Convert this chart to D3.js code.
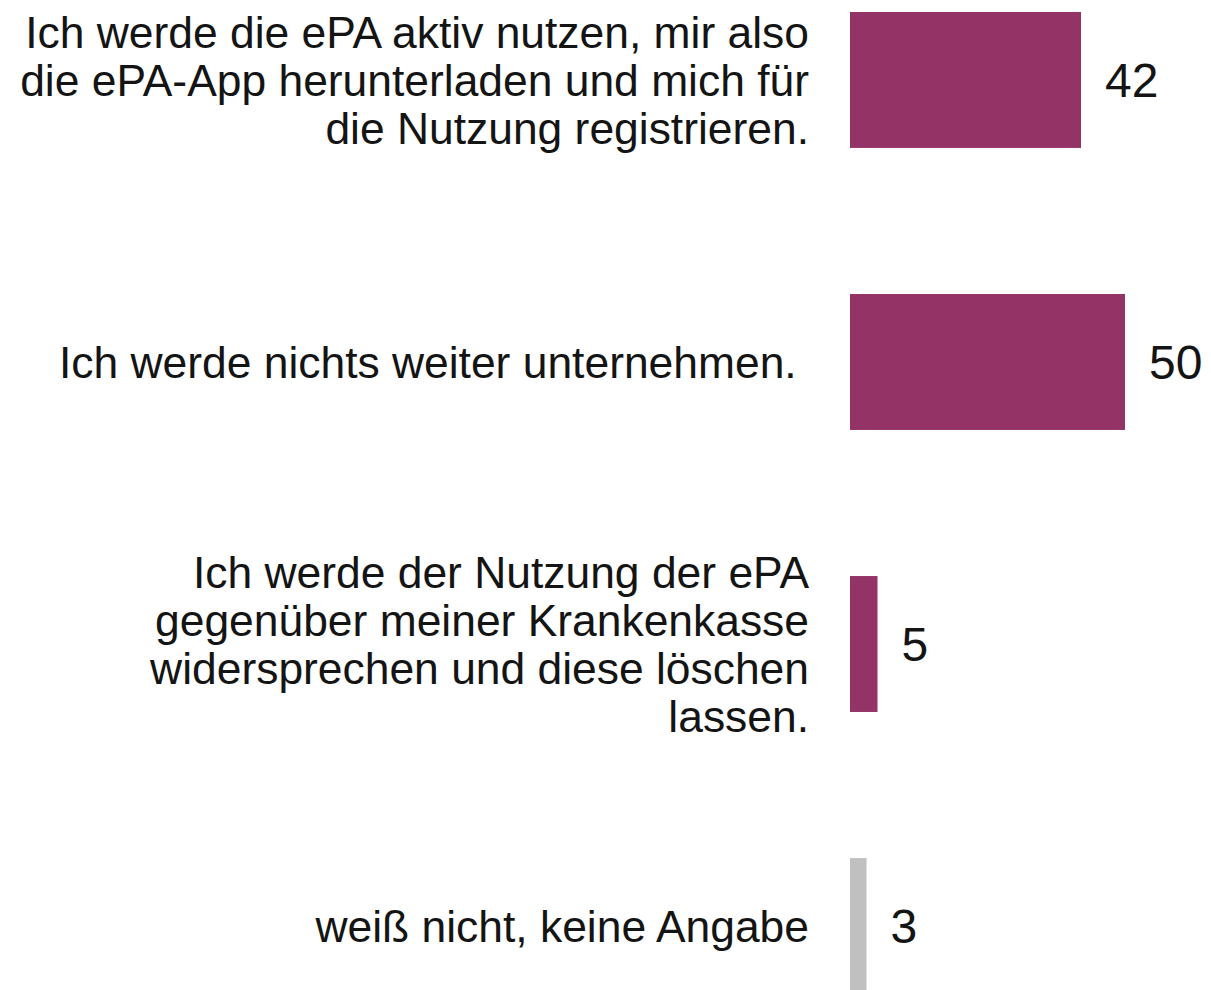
<!DOCTYPE html>
<html lang="de">
<head>
    <meta charset="UTF-8">
    <style>
        body { margin: 0; background: #fff; }
        svg text { font-family: "Liberation Sans", Arial, sans-serif; fill: #141414; white-space: pre; }
    </style>
</head>
<body>
<script src="https://d3js.org/d3.v7.min.js"></script>
<script>
// Antworten (Zeilen umbrochen wie im Original)
var categories = [
    ["Ich werde die ePA aktiv nutzen, mir also", "die ePA-App herunterladen und mich für", "die Nutzung registrieren."],
    ["Ich werde nichts weiter unternehmen. "],
    ["Ich werde der Nutzung der ePA", "gegenüber meiner Krankenkasse", "widersprechen und diese löschen", "lassen."],
    ["weiß nicht, keine Angabe"]
];
var values = [42, 50, 5, 3];
var colors = ["#943366", "#943366", "#943366", "#c0c0c0"];

var width = 1211;
var height = 990;

var svg = d3.select("body")
    .append("svg")
    .attr("width", width)
    .attr("height", height);

var ids = d3.range(values.length);

var x = d3.scaleLinear()
    .domain([0, 50])
    .range([850, 1125]);

var y = d3.scaleBand()
    .domain(ids)
    .range([12, 994])
    .paddingInner(0.518)
    .paddingOuter(0);

// Balken
svg.selectAll("rect.bar")
    .data(ids)
    .enter().append("rect")
    .attr("class", "bar")
    .attr("x", x(0))
    .attr("y", function(i) { return y(i); })
    .attr("width", function(i) { return x(values[i]) - x(0); })
    .attr("height", y.bandwidth())
    .attr("fill", function(i) { return colors[i]; });

// Werte
svg.selectAll("text.value")
    .data(ids)
    .enter().append("text")
    .attr("class", "value")
    .attr("x", function(i) { return x(values[i]) + 24; })
    .attr("y", function(i) { return y(i) + y.bandwidth() / 2 + 17; })
    .style("font-size", "48px")
    .text(function(i) { return values[i]; });

// Beschriftungen
var lineHeight = 48;
var labels = svg.selectAll("text.label")
    .data(ids)
    .enter().append("text")
    .attr("class", "label")
    .attr("text-anchor", "end")
    .style("font-size", "44.4px");

labels.selectAll("tspan")
    .data(function(i) {
        var lines = categories[i];
        return lines.map(function(t, k) {
            return { text: t, y: y(i) + y.bandwidth() / 2 + 16 + (k - (lines.length - 1) / 2) * lineHeight };
        });
    })
    .enter().append("tspan")
    .attr("x", 809)
    .attr("y", function(d) { return d.y; })
    .text(function(d) { return d.text; });
</script>
</body>
</html>
